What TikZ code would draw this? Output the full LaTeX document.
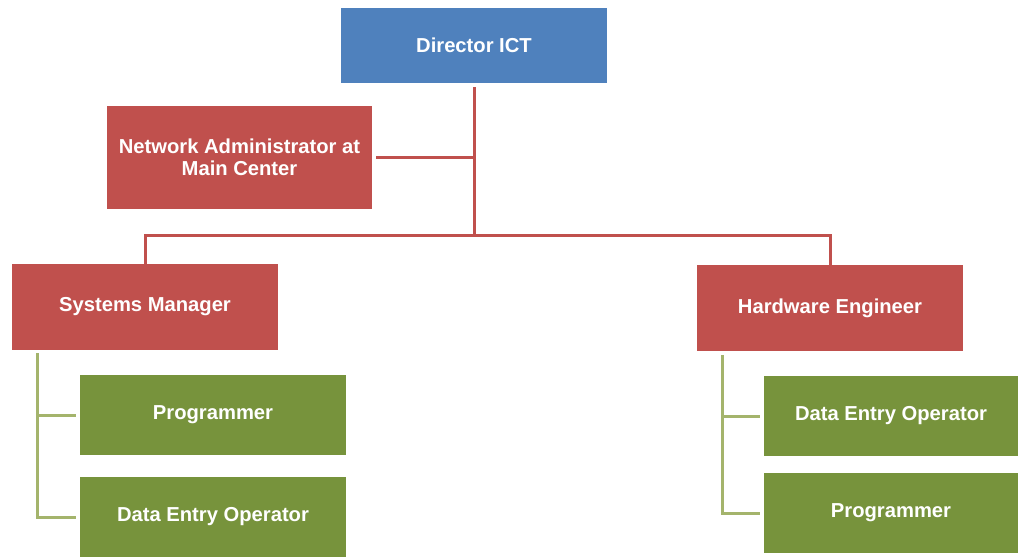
\documentclass[tikz,border=0pt]{standalone}
\usepackage{fontspec}
\setmainfont{Liberation Sans}
\definecolor{boxblue}{HTML}{4F81BD}
\definecolor{boxred}{HTML}{C0504D}
\definecolor{boxgreen}{HTML}{77933C}
\definecolor{linered}{HTML}{C0504D}
\definecolor{linegreen}{HTML}{A4B46C}
\begin{document}
\begin{tikzpicture}[x=1pt,y=-1pt,
  orgbox/.style={rectangle,draw=none,text=white,align=center,
    font=\fontsize{20.2}{22}\selectfont\bfseries,inner sep=0pt},
  bluebox/.style={orgbox,fill=boxblue},
  redbox/.style={orgbox,fill=boxred},
  greenbox/.style={orgbox,fill=boxgreen},
  redline/.style={draw=linered,line width=3pt},
  greenline/.style={draw=linegreen,line width=3pt}]
\useasboundingbox[fill=white] (0,0) rectangle (1018,557);

\node[bluebox,minimum width=266pt,minimum height=75pt] (dir) at (474,45.5) {Director ICT};
\node[redbox,minimum width=265pt,minimum height=103pt] (na) at (239.5,157) {Network Administrator at\\Main Center};
\node[redbox,minimum width=266pt,minimum height=86pt] (sys) at (145,307) {Systems Manager};
\node[redbox,minimum width=266pt,minimum height=86pt] (hw) at (830,308) {Hardware Engineer};
\node[greenbox,minimum width=266pt,minimum height=80pt] (progl) at (213,415) {Programmer};
\node[greenbox,minimum width=266pt,minimum height=80pt] (deol) at (213,517) {Data Entry Operator};
\node[greenbox,minimum width=254pt,minimum height=80pt] (deor) at (891,416) {Data Entry Operator};
\node[greenbox,minimum width=254pt,minimum height=80pt] (progr) at (891,513) {Programmer};

\coordinate (j) at (474,235);
\draw[redline] ([yshift=-4pt]dir.south) -- (j);
\draw[redline] ([xshift=4pt]na.east) -- (na.east -| j);
\draw[redline] (sys.north) |- (j);
\draw[redline] (hw.north) |- (j);

\coordinate (sl) at ([xshift=26pt,yshift=-3pt]sys.south west);
\draw[greenline] (sl) |- ([xshift=-4pt]deol.west);
\draw[greenline] (sl |- progl.west) -- ([xshift=-4pt]progl.west);

\coordinate (hl) at ([xshift=26pt,yshift=-4pt]hw.south west);
\draw[greenline] (hl) |- ([xshift=-4pt]progr.west);
\draw[greenline] (hl |- deor.west) -- ([xshift=-4pt]deor.west);
\end{tikzpicture}
\end{document}
